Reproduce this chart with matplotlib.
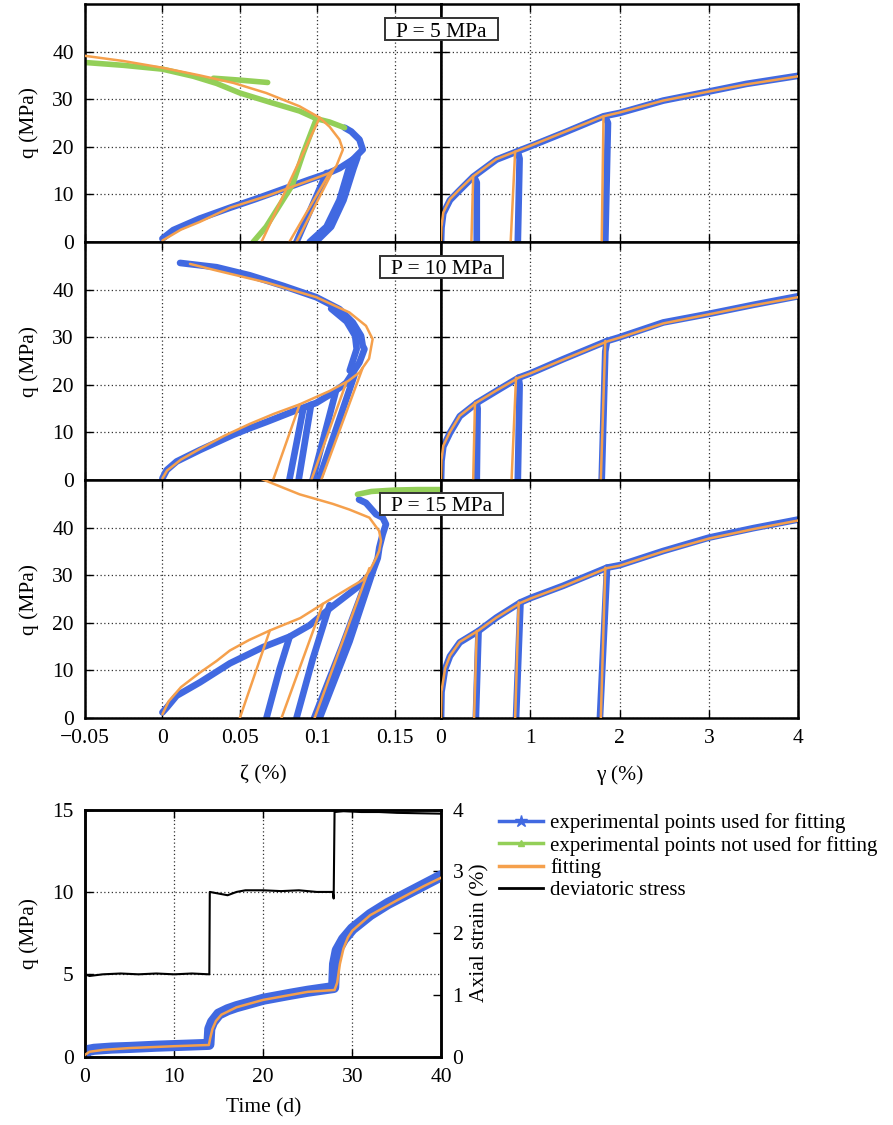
import matplotlib
matplotlib.use('Agg')
import matplotlib.pyplot as plt
from matplotlib.lines import Line2D
from matplotlib.patches import Rectangle

plt.rcParams['font.family'] = ['Liberation Serif', 'DejaVu Serif']
plt.rcParams['font.size'] = 15.5

BLUE = '#4169e1'
GREEN = '#93cf58'
ORANGE = '#f5a04c'

# ---- data: (zeta %, q MPa) and (gamma %, q MPa) ----
pressures = [5, 10, 15]

# P = 5 MPa, zeta plane
z5_used = [
    [(0.0, 0.7), (0.007, 2.5), (0.024, 4.9), (0.0437, 7.2), (0.060, 9.0), (0.078, 11.1),
     (0.095, 13.1), (0.106, 14.3), (0.1144, 15.5), (0.123, 17.3), (0.1294, 19.4),
     (0.1273, 21.5), (0.122, 23.2), (0.1177, 24.0)],
    [(0.106, 14.5), (0.0866, 0.0)],
    [(0.123, 17.3), (0.1209, 15.9), (0.1144, 8.8), (0.106, 3.2), (0.0951, 0.0)],
    [(0.126, 17.8), (0.1235, 15.5), (0.117, 8.8), (0.109, 3.2), (0.099, 0.0)],
]
z5_unused = [
    [(0.1177, 24.0), (0.108, 25.2), (0.0995, 25.9), (0.0886, 27.5), (0.070, 29.3), (0.050, 31.3),
     (0.035, 33.3), (0.020, 34.8), (0.0, 36.3), (-0.025, 37.1), (-0.05, 37.7)],
    [(0.033, 34.4), (0.050, 34.0), (0.068, 33.5)],
    [(0.0995, 25.9), (0.091, 18.7), (0.084, 12.0), (0.067, 3.2), (0.0586, 0.0)],
]
z5_fit = [
    [(0.0, 0.3), (0.012, 2.6), (0.024, 4.2), (0.0437, 7.2), (0.067, 9.6), (0.078, 10.9),
     (0.1016, 13.7), (0.108, 14.5), (0.1123, 15.9), (0.1166, 19.4), (0.1144, 21.5),
     (0.108, 24.2), (0.1016, 26.1), (0.0886, 28.5), (0.067, 31.3), (0.046, 33.4),
     (0.024, 35.0), (0.0, 36.6), (-0.025, 38.0), (-0.05, 39.1)],
    [(0.108, 14.5), (0.082, 0.0)],
    [(0.1105, 15.2), (0.0866, 0.0)],
    [(0.1016, 26.1), (0.064, 0.0)],
]

# P = 10 MPa, zeta plane
z10_used = [
    [(0.0, 0.35), (0.0028, 2.1), (0.0092, 3.9), (0.0242, 6.3), (0.0457, 9.5), (0.0565, 10.9),
     (0.0672, 12.2), (0.0844, 14.4), (0.0994, 16.2), (0.110, 18.3), (0.1187, 20.4),
     (0.1273, 24.7), (0.1305, 27.5), (0.1294, 28.2), (0.1283, 30.3), (0.123, 33.1),
     (0.1144, 35.9), (0.0994, 38.4), (0.0779, 40.8), (0.0564, 43.0), (0.035, 44.7),
     (0.0114, 45.6)],
    [(0.121, 23.0), (0.1255, 27.5), (0.1245, 30.3), (0.119, 33.3), (0.109, 36.0)],
    [(0.091, 15.0), (0.082, 0.0)],
    [(0.096, 15.8), (0.088, 0.0)],
    [(0.112, 18.6), (0.097, 0.0)],
    [(0.124, 22.0), (0.101, 0.0)],
]
z10_unused = []
z10_fit = [
    [(0.0, 0.35), (0.003, 2.0), (0.012, 4.3), (0.024, 6.5), (0.040, 9.3), (0.0565, 11.8),
     (0.072, 13.9), (0.0887, 15.9), (0.108, 18.7), (0.120, 20.8), (0.1273, 22.6),
     (0.1335, 25.5), (0.1358, 29.6), (0.1315, 32.4), (0.1208, 35.2), (0.0994, 38.4),
     (0.0672, 41.5), (0.035, 44.0), (0.0178, 45.4)],
    [(0.0887, 15.9), (0.0715, 0.0)],
    [(0.1187, 20.4), (0.0962, 0.0)],
    [(0.1294, 23.6), (0.1026, 0.0)],
]

# P = 15 MPa, zeta plane
z15_used = [
    [(0.0, 1.2), (0.0028, 2.2), (0.0092, 4.7), (0.0242, 7.5), (0.0436, 11.5), (0.065, 14.9),
     (0.0822, 17.1), (0.0951, 19.5), (0.108, 23.0), (0.1252, 27.3), (0.1359, 30.8),
     (0.1391, 33.6), (0.1401, 35.8), (0.1423, 38.6), (0.1444, 40.7), (0.1423, 42.1),
     (0.138, 42.8), (0.1315, 45.2), (0.127, 45.9)],
    [(0.0822, 17.1), (0.0758, 10.4), (0.0672, 0.0)],
    [(0.108, 23.7), (0.0972, 12.5), (0.0866, 0.0)],
    [(0.1359, 30.8), (0.1209, 16.1), (0.1016, 0.0)],
    [(0.132, 29.0), (0.116, 15.0), (0.098, 0.0)],
]
z15_unused = [
    [(0.126, 47.0), (0.135, 47.6), (0.150, 47.9), (0.165, 48.0), (0.181, 48.0)],
]
z15_fit = [
    [(0.0, 0.8), (0.004, 3.5), (0.012, 6.5), (0.024, 9.5), (0.035, 12.0), (0.0436, 14.2),
     (0.056, 16.4), (0.0694, 18.4), (0.089, 21.0), (0.1037, 24.0), (0.121, 27.4),
     (0.1294, 29.0), (0.1337, 30.9), (0.138, 33.6), (0.140, 35.1), (0.1412, 37.2),
     (0.140, 39.3), (0.1337, 42.1), (0.1208, 43.8), (0.110, 45.0), (0.0886, 47.0),
     (0.0779, 48.4), (0.065, 50.1), (0.058, 51.0)],
    [(0.0694, 18.4), (0.050, 0.0)],
    [(0.1037, 24.0), (0.0769, 0.0)],
    [(0.1337, 31.5), (0.0983, 0.0)],
]

# gamma plane
g5_used = [
    [(0.0, 0.0), (0.005, 3.0), (0.025, 6.0), (0.1, 8.8), (0.21, 10.9), (0.36, 13.7),
     (0.62, 17.3), (0.85, 19.0), (1.0, 20.1), (1.37, 22.9), (1.82, 26.4), (2.0, 27.1),
     (2.49, 29.7), (3.0, 31.6), (3.42, 33.2), (4.0, 34.9)],
    [(0.37, 13.7), (0.40, 12.5), (0.40, 0.0)],
    [(0.86, 19.0), (0.88, 17.5), (0.86, 0.0)],
    [(1.84, 26.3), (1.87, 25.0), (1.84, 0.0)],
]
g5_fit = [
    [(0.0, 0.0), (0.005, 3.2), (0.025, 6.2), (0.1, 9.0), (0.21, 11.1), (0.36, 13.8),
     (0.62, 17.4), (0.85, 19.1), (1.0, 20.2), (1.37, 23.0), (1.82, 26.4), (2.0, 27.2),
     (2.49, 29.7), (3.0, 31.6), (3.42, 33.1), (4.0, 34.8)],
    [(0.36, 13.8), (0.34, 0.0)],
    [(0.83, 19.0), (0.78, 0.0)],
    [(1.82, 26.4), (1.80, 0.0)],
]
g10_used = [
    [(0.0, 0.0), (0.005, 4.0), (0.025, 7.0), (0.1, 9.9), (0.21, 13.4), (0.40, 16.2),
     (0.62, 18.7), (0.87, 21.5), (1.0, 22.4), (1.37, 25.4), (1.86, 29.2), (2.0, 30.0),
     (2.49, 33.1), (3.0, 34.9), (3.5, 36.8), (4.0, 38.6)],
    [(0.40, 16.2), (0.41, 15.0), (0.40, 0.0)],
    [(0.87, 21.5), (0.88, 20.0), (0.86, 0.0)],
    [(1.86, 29.2), (1.84, 27.0), (1.80, 0.0)],
]
g10_fit = [
    [(0.0, 0.0), (0.005, 4.2), (0.025, 7.2), (0.1, 10.1), (0.21, 13.5), (0.40, 16.3),
     (0.62, 18.8), (0.87, 21.5), (1.0, 22.4), (1.37, 25.3), (1.86, 29.1), (2.0, 29.9),
     (2.49, 32.9), (3.0, 34.8), (3.5, 36.7), (4.0, 38.4)],
    [(0.38, 16.2), (0.36, 0.0)],
    [(0.84, 21.5), (0.79, 0.0)],
    [(1.84, 29.2), (1.79, 0.0)],
]
g15_used = [
    [(0.0, 0.0), (0.005, 5.5), (0.045, 10.3), (0.1, 13.0), (0.21, 15.9), (0.42, 18.3),
     (0.62, 21.1), (0.89, 24.3), (1.0, 25.2), (1.37, 27.8), (1.86, 31.6), (2.0, 32.1),
     (2.49, 35.1), (3.0, 37.9), (3.5, 39.9), (4.0, 41.7)],
    [(0.42, 18.3), (0.39, 0.0)],
    [(0.89, 24.3), (0.84, 0.0)],
    [(1.86, 31.6), (1.78, 0.0)],
]
g15_fit = [
    [(0.0, 0.0), (0.005, 5.6), (0.045, 10.4), (0.1, 13.1), (0.21, 16.0), (0.42, 18.4),
     (0.62, 21.1), (0.89, 24.2), (1.0, 25.1), (1.37, 27.7), (1.86, 31.5), (2.0, 32.0),
     (2.49, 35.0), (3.0, 37.7), (3.5, 39.7), (4.0, 41.5)],
    [(0.40, 18.3), (0.37, 0.0)],
    [(0.87, 24.3), (0.83, 0.0)],
    [(1.84, 31.6), (1.79, 0.0)],
]

# creep test, time history
t_stress = [0, 0.5, 2, 4, 6, 8, 10, 12, 13.95, 14.0, 15, 16, 17, 18, 20, 22, 24, 26,
            27.8, 27.9, 28.0, 29, 31, 33, 35, 37, 40]
q_stress = [5.0, 4.9, 5.0, 5.05, 5.0, 5.05, 5.0, 5.05, 5.0, 10.0, 9.9, 9.8, 10.0, 10.1,
            10.1, 10.05, 10.1, 10.0, 10.0, 9.6, 14.85, 14.9, 14.85, 14.85, 14.8, 14.78, 14.75]
t_used = [0, 0.3, 1, 3, 5, 8, 10, 12, 13.9, 14.0, 14.3, 15, 16, 17, 20, 23, 25, 27.9,
          28.0, 28.3, 29, 30, 32, 34, 36, 38, 40]
strain_used = [0.05, 0.1, 0.12, 0.14, 0.15, 0.17, 0.18, 0.19, 0.2, 0.45, 0.56, 0.69, 0.76,
               0.81, 0.93, 1.01, 1.06, 1.12, 1.5, 1.72, 1.9, 2.07, 2.3, 2.48, 2.63, 2.78, 2.93]
t_fit = [0, 0.5, 2, 5, 10, 13.9, 14.05, 14.3, 14.7, 15.3, 17, 20, 25, 28.0, 28.3, 28.6,
         29.0, 29.5, 30, 32, 35, 38, 40]
strain_fit = [0.03, 0.08, 0.11, 0.14, 0.17, 0.19, 0.3, 0.45, 0.58, 0.68, 0.8, 0.92, 1.05,
              1.08, 1.2, 1.5, 1.75, 1.93, 2.04, 2.29, 2.53, 2.76, 2.9]

zeta_ticks = [-0.05, 0, 0.05, 0.1, 0.15]
zeta_labels = ['\u22120.05', '0', '0.05', '0.1', '0.15']
gamma_ticks = [0, 1, 2, 3, 4]
q_ticks = [0, 10, 20, 30, 40]


def draw(ax, segs, color, lw, z):
    for seg in segs:
        ax.plot([p[0] for p in seg], [p[1] for p in seg], color=color, lw=lw, zorder=z,
                solid_capstyle='round', solid_joinstyle='round')


def style(ax):
    ax.tick_params(direction='in', top=True, right=True, length=6, width=1,
                   labelsize=15.5, pad=8)
    ax.grid(True, color='#333333', linestyle=(0, (1, 2)), linewidth=0.9)
    for s in ax.spines.values():
        s.set_linewidth(1.8)


fig = plt.figure(figsize=(8.93, 11.25), dpi=100)

rows = [
    (z5_used, z5_unused, z5_fit, g5_used, g5_fit),
    (z10_used, z10_unused, z10_fit, g10_used, g10_fit),
    (z15_used, z15_unused, z15_fit, g15_used, g15_fit),
]
bottoms = [0.7849, 0.5733, 0.3617]
box_y = [0.9742, 0.7631, 0.5524]
h = 0.2116
box_texts = []

for i, (zu, zn, zf, gu, gf) in enumerate(rows):
    axl = fig.add_axes([0.0952, bottoms[i], 0.3987, h])
    axr = fig.add_axes([0.4939, bottoms[i], 0.3998, h])

    draw(axl, zu, BLUE, 4.8, 2)
    draw(axl, zn, GREEN, 4.0, 2)
    draw(axl, zf, ORANGE, 1.8, 3)
    draw(axr, gu, BLUE, 4.8, 2)
    draw(axr, gf, ORANGE, 1.8, 3)

    axl.set_xlim(-0.05, 0.18)
    axr.set_xlim(0, 4)
    for ax in (axl, axr):
        ax.set_ylim(0, 50)
        ax.set_yticks(q_ticks)
        style(ax)
    axl.set_xticks(zeta_ticks)
    axr.set_xticks(gamma_ticks)
    axr.tick_params(labelleft=False)
    axl.set_ylabel('q (MPa)', fontsize=15.5)
    axl.yaxis.set_label_coords(-0.13, 0.5)
    if i < 2:
        axl.tick_params(labelbottom=False)
        axr.tick_params(labelbottom=False)
    else:
        axl.set_xticklabels(zeta_labels)
        axr.set_xticklabels([str(v) for v in gamma_ticks])
        axl.set_xlabel('\u03b6 (%)', fontsize=15.5)
        axr.set_xlabel('\u03b3 (%)', fontsize=15.5)
        axl.xaxis.set_label_coords(0.5, -0.2)
        axr.xaxis.set_label_coords(0.5, -0.2)

    t = fig.text(0.4944, box_y[i] - 0.0027, 'P = %d MPa' % pressures[i], ha='center',
                 va='center', fontsize=15.5, zorder=11)
    box_texts.append(t)

# boxes around the pressure labels, sized from the rendered text
renderer = fig.canvas.get_renderer()
W, H = fig.bbox.width, fig.bbox.height
for t in box_texts:
    ext = t.get_window_extent(renderer)
    x0, x1 = ext.x0 - 11, ext.x1 + 11
    yc = (ext.y0 + ext.y1) / 2 + 3
    fig.patches.append(Rectangle((x0 / W, (yc - 11) / H), (x1 - x0) / W, 22 / H,
                                 transform=fig.transFigure, fc='white', ec='#333333',
                                 lw=1.4, zorder=10))

# bottom panel: stress and axial strain vs time
ax = fig.add_axes([0.0952, 0.0607, 0.3992, 0.2197])
ax2 = ax.twinx()
ax.plot(t_stress, q_stress, color='black', lw=1.5, zorder=3)
ax2.plot(t_used, strain_used, color=BLUE, lw=8, solid_capstyle='round', zorder=2)
ax2.plot(t_fit, strain_fit, color=ORANGE, lw=1.8, zorder=3)
ax.set_xlim(0, 40)
ax.set_ylim(0, 15)
ax2.set_ylim(0, 4)
ax.set_xticks([0, 10, 20, 30, 40])
ax.set_yticks([0, 5, 10, 15])
ax2.set_yticks([0, 1, 2, 3, 4])
ax.tick_params(direction='in', top=True, right=False, length=6, width=1, labelsize=15.5, pad=8)
ax2.tick_params(direction='in', length=6, width=1, labelsize=15.5, pad=8)
ax.grid(True, color='#333333', linestyle=(0, (1, 2)), linewidth=0.9)
for s in list(ax.spines.values()) + list(ax2.spines.values()):
    s.set_linewidth(1.8)
ax.set_ylabel('q (MPa)', fontsize=15.5)
ax.yaxis.set_label_coords(-0.13, 0.5)
ax2.set_ylabel('Axial strain (%)', fontsize=15.5)
ax2.yaxis.set_label_coords(1.08, 0.5)
ax.set_xlabel('Time (d)', fontsize=15.5)
ax.xaxis.set_label_coords(0.5, -0.17)
ax2.set_zorder(ax.get_zorder() + 1)
ax2.patch.set_visible(False)

handles = [
    Line2D([], [], color=BLUE, lw=2.5, marker='*', markersize=9),
    Line2D([], [], color=GREEN, lw=2.5, marker='^', markersize=5),
    Line2D([], [], color=ORANGE, lw=2.5),
    Line2D([], [], color='black', lw=2),
]
labels = ['experimental points used for fitting', 'experimental points not used for fitting',
          'fitting', 'deviatoric stress']
fig.legend(handles, labels, loc='upper left', bbox_to_anchor=(0.559, 0.277), frameon=False,
           fontsize=15, handlelength=2.1, handletextpad=0.35, labelspacing=0.12,
           borderaxespad=0, borderpad=0)

fig.savefig('out.png', dpi=100)
